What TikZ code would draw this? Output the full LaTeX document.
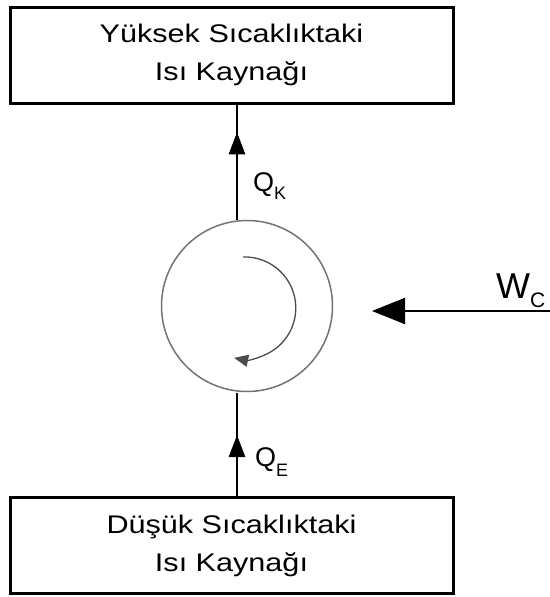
\documentclass[tikz,border=0pt]{standalone}
\usepackage{fontspec}
\setmainfont{Liberation Sans}
\newfontfamily\boxfont[FakeStretch=1.2]{Liberation Sans}
\usetikzlibrary{arrows.meta,decorations.markings}
\begin{document}
\begin{tikzpicture}[x=1pt,y=-1pt,
  box/.style={draw=black,line width=3pt,minimum width=443pt,minimum height=96pt,inner sep=0pt,align=center,font=\boxfont\fontsize{25.5}{38}\selectfont},
  flow/.style={line width=2.5pt,postaction={decorate},decoration={markings,mark=at position #1 with {\arrow{Triangle[length=22pt,width=16pt]}}}},
  lbl/.style={font=\fontsize{27}{30}\selectfont,inner sep=0pt}
]
\useasboundingbox (0,0) rectangle (549,597);
\node[box] (hot) at (231.5,55) {Yüksek Sıcaklıktaki\\Isı Kaynağı};
\node[box] (cold) at (231.5,545.5) {Düşük Sıcaklıktaki\\Isı Kaynağı};
\node[circle,draw=black!55,line width=1.5pt,minimum size=171pt,inner sep=0pt] (cyc) at (247,306) {};
\coordinate (ktop) at (237,103);
\coordinate (kbot) at (237,220);
\coordinate (etop) at (237,393);
\coordinate (ebot) at (237,498);
\draw[flow=0.75] (kbot) -- (ktop);
\draw[flow=0.6] (ebot) -- (etop);
\coordinate (wstart) at (552,311);
\coordinate (wend) at (372,311);
\draw[line width=2pt,-{Triangle[length=33pt,width=26pt]}] (wstart) -- (wend);
\node[lbl,anchor=base west] (qk) at (253,191) {Q\raisebox{-8pt}{\fontsize{18}{18}\selectfont K}};
\node[lbl,anchor=base west] (qe) at (255,466) {Q\raisebox{-10pt}{\fontsize{18}{18}\selectfont E}};
\node[inner sep=0pt,anchor=base west,font=\fontsize{36}{40}\selectfont] (wc) at (496,298) {W\raisebox{-9pt}{\fontsize{21}{21}\selectfont C}};
\draw[line width=1.3pt,draw=black!70,-{Triangle[length=14pt,width=12pt]}] (243,257) arc[start angle=-92,end angle=102,radius=51];
\end{tikzpicture}
\end{document}
